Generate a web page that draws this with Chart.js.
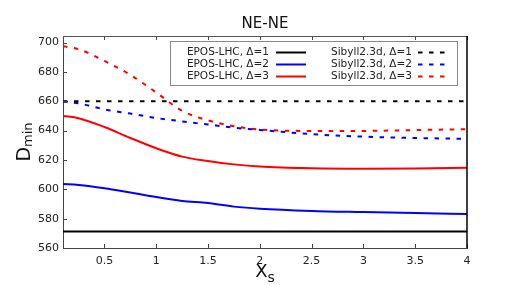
<!DOCTYPE html>
<html>
<head>
<meta charset="utf-8">
<script src="https://cdn.jsdelivr.net/npm/chart.js@4"></script>
<style>
  body { margin: 0; background: #fff; }
  #chart { display: block; }
</style>
</head>
<body>
<canvas id="chart" width="506" height="285"></canvas>
<script>
const TITLE = "NE-NE"

const xs = [0.1, 0.25, 0.5, 0.75, 1, 1.25, 1.5, 1.75, 2, 2.5, 3, 3.5, 4]

const eposD1 = [571.3, 571.3, 571.3, 571.3, 571.3, 571.3, 571.3, 571.3, 571.3, 571.3, 571.3, 571.3, 571.3]
const eposD2 = [603.6, 603.0, 600.8, 597.8, 594.7, 592.1, 590.6, 588.2, 586.8, 585.3, 584.5, 583.8, 583.2]
const eposD3 = [650.0, 648.5, 642.5, 635.0, 628.0, 622.3, 619.3, 617.0, 615.5, 614.3, 614.0, 614.2, 614.7]

const sibD1 = [660, 660, 660, 660, 660, 660, 660, 660, 660, 660, 660, 660, 660]
const sibD2 = [659.8, 658.6, 654.5, 651.6, 648.6, 646.3, 644.2, 642.0, 640.5, 637.6, 635.9, 635.0, 634.4]
const sibD3 = [697.5, 695.5, 687.5, 678.0, 666.0, 653.5, 647.0, 643.0, 640.8, 639.8, 639.8, 640.4, 641.0]

const labels = [
    "EPOS-LHC, \u0394=1", "EPOS-LHC, \u0394=2", "EPOS-LHC, \u0394=3",
    "Sibyll2.3d, \u0394=1", "Sibyll2.3d, \u0394=2", "Sibyll2.3d, \u0394=3"
]
const series = [eposD1, eposD2, eposD3, sibD1, sibD2, sibD3]
const colors = ['#000000', '#0000ff', '#ff0000', '#000000', '#0000ff', '#ff0000']

const DASH = [4.5, 6.5]

function toPoints(ys){
    return xs.map((x, i) => ({x: x, y: ys[i]}))
}

const datasets = series.map((ys, i) => ({
    label: labels[i],
    data: toPoints(ys),
    borderColor: colors[i],
    backgroundColor: colors[i],
    borderWidth: 2,
    borderDash: i < 3 ? [] : DASH,
    pointRadius: 0,
    cubicInterpolationMode: 'monotone',
    fill: false
}))

const FONT = '"DejaVu Sans", Verdana, sans-serif'

// ticks inside the frame, top/right frame, title, axis labels, legend box
const decorations = {
    id: 'decorations',
    afterDatasetsDraw(chart){
        const ctx = chart.ctx
        const a = chart.chartArea
        const xScale = chart.scales.x
        const yScale = chart.scales.y
        ctx.save()

        ctx.strokeStyle = '#444'
        ctx.lineWidth = 1
        ctx.beginPath()
        xScale.ticks.forEach(t => {
            const px = Math.round(xScale.getPixelForValue(t.value)) + 0.5
            ctx.moveTo(px, a.bottom); ctx.lineTo(px, a.bottom - 4)
            ctx.moveTo(px, a.top); ctx.lineTo(px, a.top + 4)
        })
        yScale.ticks.forEach(t => {
            const py = Math.round(yScale.getPixelForValue(t.value)) + 0.5
            ctx.moveTo(a.left, py); ctx.lineTo(a.left + 4, py)
        })
        ctx.stroke()

        // top and right frame
        ctx.beginPath()
        ctx.strokeStyle = '#555'
        ctx.moveTo(a.left, a.top + 0.5); ctx.lineTo(a.right, a.top + 0.5)
        ctx.stroke()
        ctx.beginPath()
        ctx.strokeStyle = '#000'
        ctx.lineWidth = 1.5
        ctx.moveTo(a.right, a.top); ctx.lineTo(a.right, a.bottom)
        ctx.stroke()

        // title
        ctx.fillStyle = '#111'
        ctx.font = '15px ' + FONT
        ctx.textAlign = 'center'
        ctx.textBaseline = 'alphabetic'
        ctx.fillText(TITLE, (a.left + a.right) / 2, 28)

        // x axis label X_s
        ctx.textAlign = 'left'
        ctx.font = '18px ' + FONT
        const wx = ctx.measureText('X').width
        ctx.font = '14px ' + FONT
        const ws = ctx.measureText('s').width
        const x0 = (a.left + a.right) / 2 - (wx + ws) / 2
        ctx.font = '18px ' + FONT
        ctx.fillText('X', x0, 277)
        ctx.font = '14px ' + FONT
        ctx.fillText('s', x0 + wx, 282)

        // y axis label D_min
        ctx.save()
        ctx.translate(30, (a.top + a.bottom) / 2)
        ctx.rotate(-Math.PI / 2)
        ctx.font = '19px ' + FONT
        const wd = ctx.measureText('D').width
        ctx.font = '13px ' + FONT
        const wm = ctx.measureText('min').width
        const y0 = -(wd + wm) / 2
        ctx.font = '19px ' + FONT
        ctx.fillText('D', y0, 0)
        ctx.font = '13px ' + FONT
        ctx.fillText('min', y0 + wd, 2)
        ctx.restore()

        // legend
        ctx.fillStyle = '#fff'
        ctx.fillRect(170.5, 41.5, 287, 44)
        ctx.strokeStyle = '#888'
        ctx.lineWidth = 1
        ctx.strokeRect(170.5, 41.5, 287, 44)

        const textRight = [269, 412]
        const lineX = [[276, 306], [418, 447]]
        ctx.font = '10.5px ' + FONT
        ctx.textAlign = 'right'
        ctx.textBaseline = 'middle'
        chart.data.datasets.forEach((ds, i) => {
            const col = i < 3 ? 0 : 1
            const row = i % 3
            const cy = 52 + row * 12
            ctx.fillStyle = '#222'
            ctx.fillText(ds.label, textRight[col], cy)
            ctx.beginPath()
            ctx.strokeStyle = ds.borderColor
            ctx.lineWidth = 2
            ctx.setLineDash(ds.borderDash)
            ctx.moveTo(lineX[col][0], cy + 0.5)
            ctx.lineTo(lineX[col][1], cy + 0.5)
            ctx.stroke()
            ctx.setLineDash([])
        })
        ctx.restore()
    }
}

const ctx = document.querySelector('#chart').getContext('2d')
const myChart = new Chart(ctx, {
    type: 'line',
    data: { datasets: datasets },
    options: {
        responsive: false,
        animation: false,
        layout: {
            padding: { left: 0, top: 36, right: 39, bottom: 0 }
        },
        plugins: {
            legend: { display: false },
            tooltip: { enabled: false },
            title: { display: false }
        },
        scales: {
            x: {
                type: 'linear',
                min: 0.1,
                max: 4,
                grid: { display: false, drawTicks: false },
                border: { display: true, color: '#444', width: 1 },
                ticks: {
                    stepSize: 0.5,
                    includeBounds: false,
                    color: '#222',
                    padding: 7,
                    maxRotation: 0,
                    font: { family: FONT, size: 11 },
                    callback: value => String(value)
                },
                afterFit: scale => { scale.height = 37 }
            },
            y: {
                min: 560,
                max: 704.5,
                grid: { display: false, drawTicks: false },
                border: { display: true, color: '#444', width: 1 },
                ticks: {
                    stepSize: 20,
                    includeBounds: false,
                    color: '#222',
                    padding: 4,
                    font: { family: FONT, size: 11 }
                },
                afterFit: scale => { scale.width = 63 }
            }
        }
    },
    plugins: [decorations]
})
</script>
</body>
</html>
